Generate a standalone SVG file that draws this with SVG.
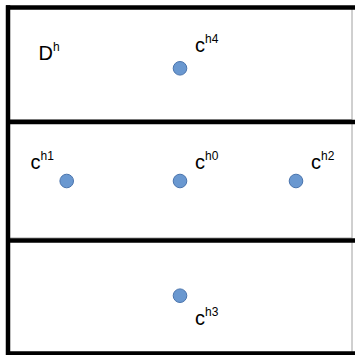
<svg xmlns="http://www.w3.org/2000/svg" width="355" height="355" viewBox="0 0 355 355">
<style>
.box{fill:#fff;stroke:#a0a0a0;stroke-width:1}
.edge{stroke:#000;stroke-width:4.5;fill:none}
.pt{fill:#6a98d0;stroke:#4a74ad;stroke-width:1}
.lbl{font-family:"Liberation Sans",Arial,sans-serif;font-size:20px;fill:#000}
.sup{font-size:12px}
</style>
<rect width="355" height="355" fill="#fff"/>
<g id="region-top">
<rect class="box" x="8" y="7.5" width="344" height="112"/>
</g>
<g id="region-mid">
<rect class="box" x="8" y="122" width="344" height="116"/>
</g>
<g id="region-bot">
<rect class="box" x="8" y="240" width="344" height="113"/>
</g>
<g id="edges">
<line class="edge" x1="6" y1="7.5" x2="355" y2="7.5"/>
<line class="edge" x1="6" y1="122" x2="355" y2="122"/>
<line class="edge" x1="6" y1="240.5" x2="355" y2="240.5"/>
<line class="edge" x1="6" y1="353.5" x2="355" y2="353.5"/>
<line class="edge" x1="8" y1="5.3" x2="8" y2="355"/>
</g>
<g id="label-D">
<text class="lbl" x="38.5" y="60">D<tspan class="sup" dy="-9">h</tspan></text>
</g>
<g id="node-ch4">
<circle class="pt" cx="180" cy="68.3" r="6.8"/>
<text class="lbl" x="195" y="52">c<tspan class="sup" dy="-9">h4</tspan></text>
</g>
<g id="node-ch1">
<circle class="pt" cx="66.7" cy="181" r="6.8"/>
<text class="lbl" x="30.5" y="169">c<tspan class="sup" dy="-9">h1</tspan></text>
</g>
<g id="node-ch0">
<circle class="pt" cx="180" cy="181" r="6.8"/>
<text class="lbl" x="195" y="169">c<tspan class="sup" dy="-9">h0</tspan></text>
</g>
<g id="node-ch2">
<circle class="pt" cx="296" cy="181" r="6.8"/>
<text class="lbl" x="311" y="169">c<tspan class="sup" dy="-9">h2</tspan></text>
</g>
<g id="node-ch3">
<circle class="pt" cx="180" cy="295.7" r="6.8"/>
<text class="lbl" x="195" y="325">c<tspan class="sup" dy="-9">h3</tspan></text>
</g>
</svg>
